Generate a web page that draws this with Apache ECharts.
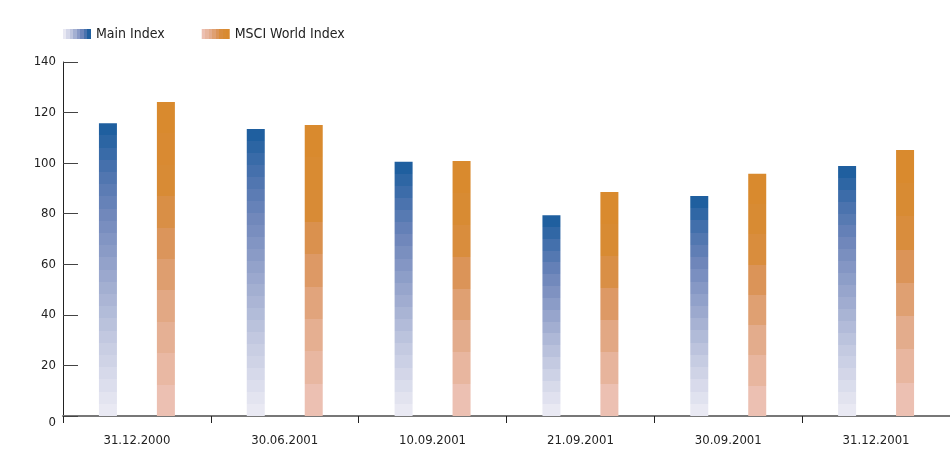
<!DOCTYPE html>
<html>
<head>
<meta charset="utf-8">
<script src="https://cdn.jsdelivr.net/npm/echarts@6/dist/echarts.min.js"></script>
<style>
html,body{margin:0;padding:0;background:#fff;}
#chart{width:950px;height:472px;}
</style>
</head>
<body>
<div id="chart"></div>
<script>
// ---- data ----
const categories = ['31.12.2000', '30.06.2001', '10.09.2001', '21.09.2001', '30.09.2001', '31.12.2001'];
const mainIndex = [115.8, 113.5, 100.6, 79.4, 87.0, 98.9];
const msciWorld = [124.2, 115.1, 100.8, 88.6, 95.8, 105.2];
const seriesNames = ['Main Index', 'MSCI World Index'];
const yTicks = [0, 20, 40, 60, 80, 100, 120, 140];

// ---- styles ----
const FONT = "'DejaVu Sans Condensed', 'DejaVu Sans', sans-serif";
const blueKeys = [[0, '#e9e9f3'], [0.25, '#c4cae1'], [0.5, '#97a5cc'], [0.7, '#7087bb'], [0.85, '#4b73ae'], [1, '#1f5f9f']];
const orangeKeys = [[0, '#ecc0b2'], [0.3, '#e3ab8a'], [0.55, '#db955c'], [0.75, '#d88b36'], [1, '#d98a2e']];

function hex2rgb(h) { return [1, 3, 5].map(i => parseInt(h.substr(i, 2), 16)); }
function colorAt(keys, t) {
  for (let i = 1; i < keys.length; i++) {
    if (t <= keys[i][0]) {
      const a = keys[i - 1], b = keys[i];
      const f = (t - a[0]) / (b[0] - a[0]);
      const ca = hex2rgb(a[1]), cb = hex2rgb(b[1]);
      return 'rgb(' + ca.map((v, k) => Math.round(v + (cb[k] - v) * f)).join(',') + ')';
    }
  }
  return keys[keys.length - 1][1];
}
function steppedGradient(keys, n, horizontal) {
  const stops = [];
  for (let i = 0; i < n; i++) {
    const c = colorAt(keys, n === 1 ? 1 : i / (n - 1));
    stops.push({offset: i / n, color: c});
    stops.push({offset: (i + 1) / n, color: c});
  }
  return horizontal
    ? new echarts.graphic.LinearGradient(0, 0, 1, 0, stops)
    : new echarts.graphic.LinearGradient(0, 1, 0, 0, stops);
}

const mainData = mainIndex.map(v => ({
  value: v,
  itemStyle: {color: steppedGradient(blueKeys, Math.max(8, Math.round(v / 4.8)), false)}
}));
const msciData = msciWorld.map(v => ({
  value: v,
  itemStyle: {color: steppedGradient(orangeKeys, Math.max(4, Math.round(v / 12.6)), false)}
}));

const chart = echarts.init(document.getElementById('chart'), null, {renderer: 'canvas'});
chart.setOption({
  animation: false,
  backgroundColor: '#ffffff',
  legend: {
    left: 58,
    top: 22,
    itemWidth: 28,
    itemHeight: 10,
    itemGap: 37,
    textStyle: {fontFamily: FONT, fontSize: 14, color: '#222'},
    data: [
      {name: seriesNames[0], icon: 'rect', itemStyle: {color: steppedGradient(blueKeys, 8, true)}},
      {name: seriesNames[1], icon: 'rect', itemStyle: {color: steppedGradient(orangeKeys, 8, true)}}
    ]
  },
  grid: {left: 63, right: 0, top: 62, bottom: 56, containLabel: false},
  xAxis: {
    type: 'category',
    data: categories,
    boundaryGap: true,
    axisLine: {show: true, lineStyle: {color: '#777', width: 2}},
    axisTick: {show: true, length: 7, lineStyle: {color: '#222', width: 1}},
    axisLabel: {fontFamily: FONT, fontSize: 13, color: '#222', margin: 18},
    splitLine: {show: false}
  },
  yAxis: {
    type: 'value',
    min: yTicks[0],
    max: yTicks[yTicks.length - 1],
    interval: 20,
    axisLine: {show: true, lineStyle: {color: '#222', width: 1}},
    axisTick: {show: true, inside: true, length: 15, lineStyle: {color: '#444', width: 1}},
    axisLabel: {
      fontFamily: FONT, fontSize: 13, color: '#222', margin: 7,
      formatter: v => v === 0 ? '{z|0}' : String(v),
      rich: {z: {fontFamily: FONT, fontSize: 13, color: '#222', padding: [14, 0, 0, 0]}}
    },
    splitLine: {show: false}
  },
  series: [
    {name: seriesNames[0], type: 'bar', barWidth: 18, barGap: '222%', data: mainData},
    {name: seriesNames[1], type: 'bar', barWidth: 18, barGap: '222%', data: msciData}
  ]
});
</script>
</body>
</html>
